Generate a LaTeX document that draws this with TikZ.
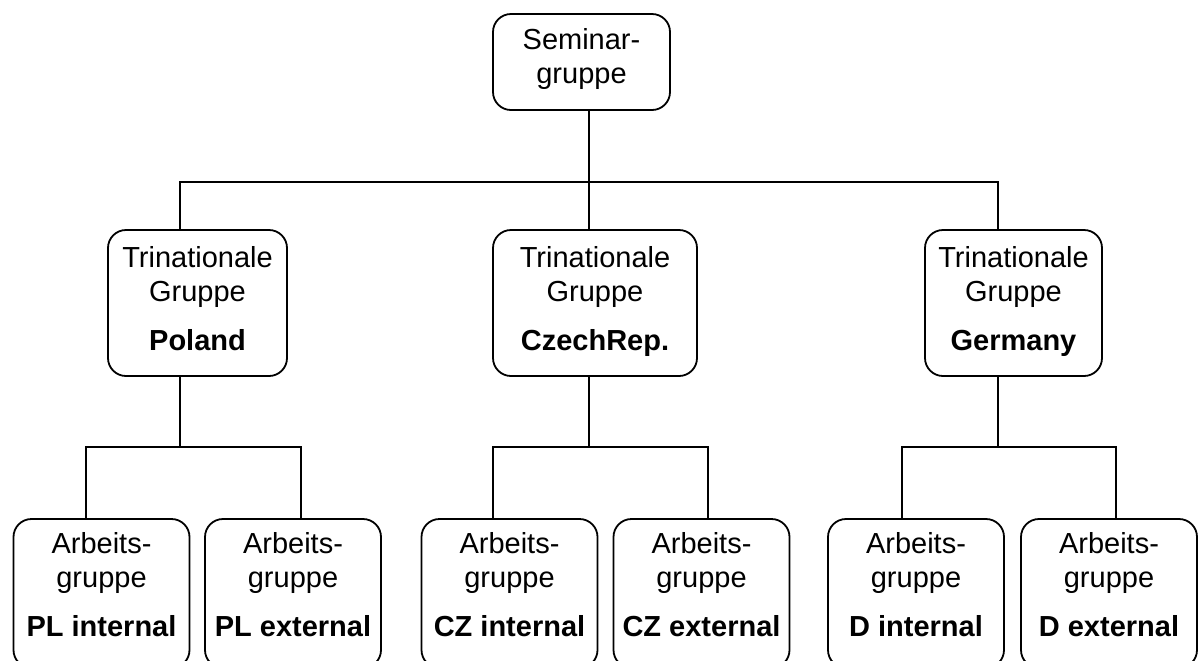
\documentclass[tikz,border=0pt]{standalone}
\usepackage{fontspec}
\setmainfont{Liberation Sans}
\newcommand{\orgtext}[3]{\parbox[c][#2][t]{#1}{\centering #3}}
\tikzset{
  orgbox/.style={draw,rounded corners=9pt,line width=0.9pt,inner xsep=0pt},
  conn/.style={line width=0.9pt}
}

\begin{document}
\begin{tikzpicture}[x=0.5pt,y=-0.5pt,font=\fontsize{14.5}{17}\selectfont]
\useasboundingbox (0,0) rectangle (1199,660);
\clip (0,0) rectangle (1199,660);
% top
\node[orgbox,inner ysep=7pt] (sem) at (581.5,62) {\orgtext{88.5pt}{34pt}{Seminar-\\gruppe}};
% middle row
\node[orgbox,inner ysep=8pt] (pl) at (197.5,303) {\orgtext{89.5pt}{57pt}{Trinationale\\Gruppe\\[7.5pt]\textbf{Poland}}};
\node[orgbox,inner ysep=8pt] (cz) at (595,303) {\orgtext{102pt}{57pt}{Trinationale\\Gruppe\\[7.5pt]\textbf{CzechRep.}}};
\node[orgbox,inner ysep=8pt] (de) at (1013.5,303) {\orgtext{88.5pt}{57pt}{Trinationale\\Gruppe\\[7.5pt]\textbf{Germany}}};
% bottom row
\foreach \n/\x/\t in {plin/101.5/PL internal,plex/293/PL external,czin/509.5/CZ internal,
  czex/701.5/CZ external,dein/916/D internal,deex/1109/D external}
  \node[orgbox,inner ysep=6.5pt] (\n) at (\x,593.5) {\orgtext{88pt}{61.5pt}{Arbeits-\\gruppe\\[7.5pt]\textbf{\t}}};
% junctions
\coordinate (jl) at (180,182);
\coordinate (jm) at (589,182);
\coordinate (jr) at (998,182);
\coordinate (pa) at (86,447);
\coordinate (pb) at (301,447);
\coordinate (ca) at (493,447);
\coordinate (cb) at (708,447);
\coordinate (da) at (902,447);
\coordinate (db) at (1116,447);
% connectors
\draw[conn] (sem.south -| jm) -- (jm |- cz.north);
\draw[conn] (jl |- pl.north) -- (jl) -- (jr) -- (jr |- de.north);
\draw[conn] (jl |- pl.south) -- (jl |- pa);
\draw[conn] (pa |- plin.north) -- (pa) -- (pb) -- (pb |- plex.north);
\draw[conn] (jm |- cz.south) -- (jm |- ca);
\draw[conn] (ca |- czin.north) -- (ca) -- (cb) -- (cb |- czex.north);
\draw[conn] (jr |- de.south) -- (jr |- da);
\draw[conn] (da |- dein.north) -- (da) -- (db) -- (db |- deex.north);
\end{tikzpicture}
\end{document}
